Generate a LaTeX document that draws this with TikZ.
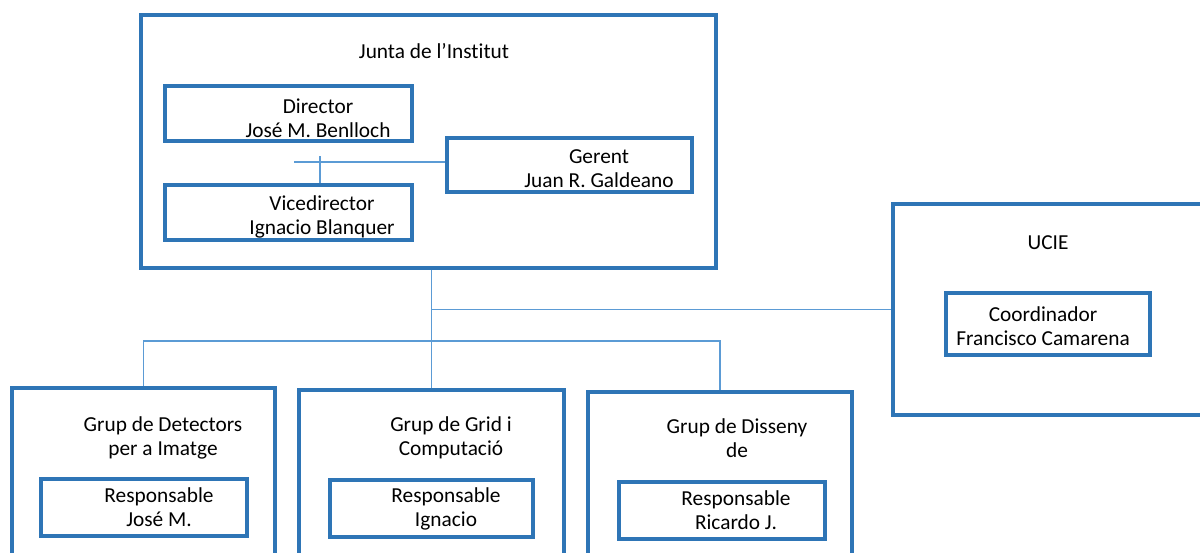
\documentclass[tikz,border=0pt]{standalone}
\usepackage{fontspec}
\setmainfont[Ligatures=NoCommon]{Carlito}
\usepackage{tikz}
\usetikzlibrary{positioning}
\usetikzlibrary{fit}
\usetikzlibrary{calc}
\definecolor{boxblue}{RGB}{46,117,182}
\definecolor{linkblue}{RGB}{91,155,213}
\tikzset{
  orgbox/.style={draw=boxblue, line width=3pt, inner sep=0pt},
  link/.style={draw=linkblue, line width=1.1pt},
  label/.style={inner sep=0.75pt, align=center, font=\fontsize{16}{18}\selectfont}
}
\begin{document}
\begin{tikzpicture}[x=0.75pt,y=0.75pt,yscale=-1,xscale=1]
  \useasboundingbox (0,0) rectangle (1200,553);
  \clip (0,0) rectangle (1200,553);
  %Shape: Rectangle [id:junta]
  \node [orgbox, fit={(141,15) (716,268)}] (junta) {};
  %Shape: Rectangle [id:director]
  \node [orgbox, fit={(165,86) (412,141)}] (dir) {};
  %Shape: Rectangle [id:gerent]
  \node [orgbox, fit={(447,138) (692,192)}] (ger) {};
  %Shape: Rectangle [id:vicedirector]
  \node [orgbox, fit={(165,185) (412,240)}] (vice) {};
  %Shape: Rectangle [id:ucie]
  \node [orgbox, fit={(893,204) (1215,415)}] (ucie) {};
  %Shape: Rectangle [id:coordinador]
  \node [orgbox, fit={(946,293) (1150,355)}] (coord) {};
  %Shape: Rectangle [id:detectors]
  \node [orgbox, fit={(12,388) (275,580)}] (det) {};
  \node [orgbox, fit={(41,479) (247,536)}] (detresp) {};
  %Shape: Rectangle [id:grid]
  \node [orgbox, fit={(299,390) (564,580)}] (grid) {};
  \node [orgbox, fit={(330,480) (533,537)}] (gridresp) {};
  %Shape: Rectangle [id:disseny]
  \node [orgbox, fit={(588,392) (852,580)}] (dis) {};
  \node [orgbox, fit={(619,482) (825,539)}] (disresp) {};

  %Straight Lines [id:dir-ger]
  \coordinate (hub) at (294,162);
  \draw [link] (hub) -- (hub -| ger.west);
  %Straight Lines [id:dir-vice]
  \coordinate (dvtop) at (320,156);
  \draw [link] (dvtop) -- (dvtop |- vice.north);
  %Straight Lines [id:junta-grups]
  \draw [link] (grid.north |- junta.south) -- (grid.north);
  %Straight Lines [id:ucie]
  \draw [link] (ucie.west) -- (ucie.west -| grid.north);
  %Straight Lines [id:bar]
  \coordinate (bar) at (431,341);
  \draw [link] (det.north) |- (bar) -| (dis.north);

  % Text Node
  \node [label] (juntatxt) at (434,51) {Junta de l’Institut};
  % Text Node
  \node [label] (dirtxt) at (318,118) {Director\\José M. Benlloch};
  % Text Node
  \node [label] (gertxt) at (599,169) {Gerent\\Juan R. Galdeano};
  % Text Node
  \node [label] (vicetxt) at (322,217) {Vicedirector\\Ignacio Blanquer};
  % Text Node
  \node [label] (ucietxt) at (1048,243) {UCIE};
  % Text Node
  \node [label] (coordtxt) at (1043,326) {Coordinador\\Francisco Camarena};
  % Text Node
  \node [label] (dettxt) at (163,437.5) {Grup de Detectors\\per a Imatge};
  % Text Node
  \node [label] (detresptxt) at (159,507.5) {Responsable\\José M.};
  % Text Node
  \node [label] (gridtxt) at (451,437.5) {Grup de Grid i\\Computació};
  % Text Node
  \node [label] (gridresptxt) at (446,508.5) {Responsable\\Ignacio};
  % Text Node
  \node [label] (distxt) at (737,438.5) {Grup de Disseny\\de};
  % Text Node
  \node [label] (disresptxt) at (736,510.5) {Responsable\\Ricardo J.};
\end{tikzpicture}
\end{document}
